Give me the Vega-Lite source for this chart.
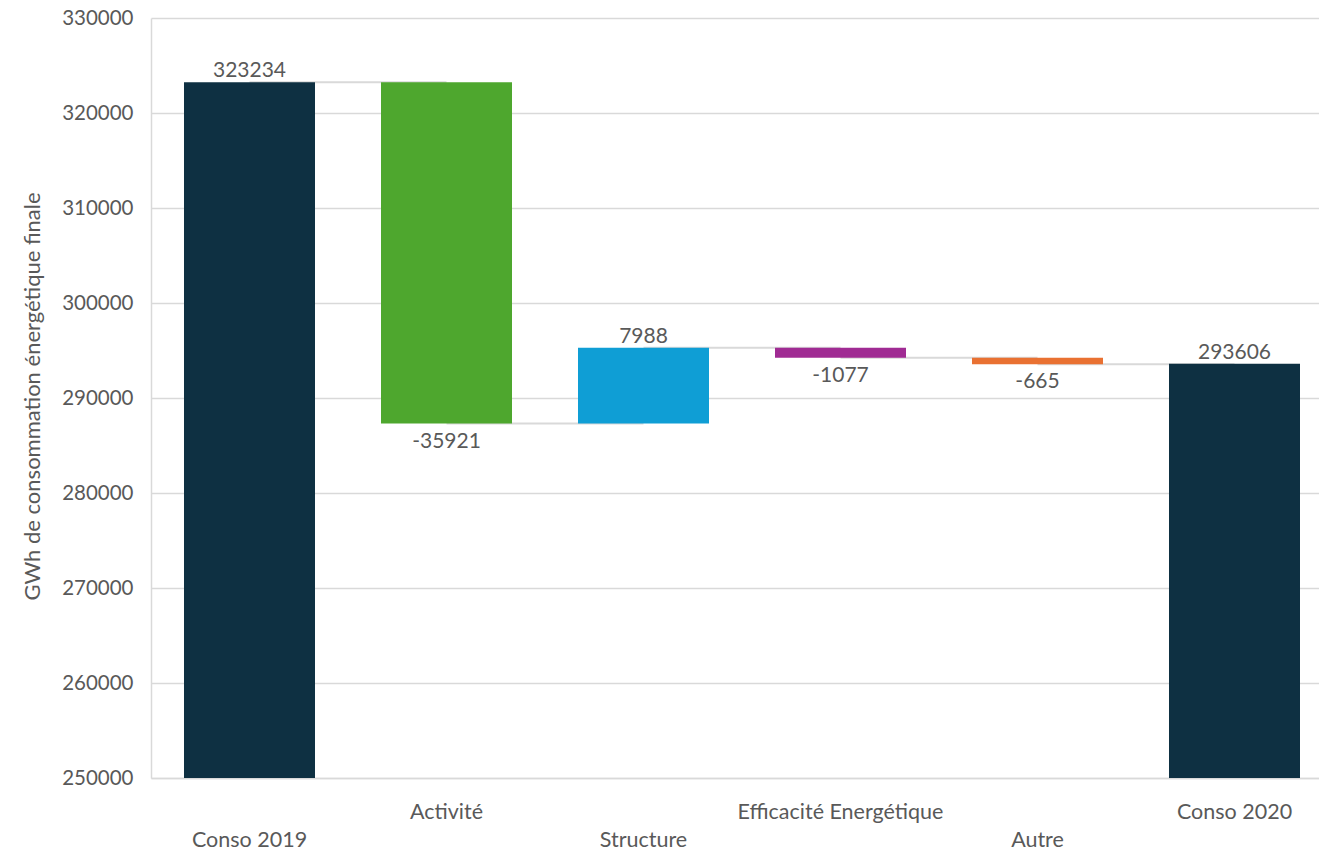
{
  "$schema": "https://vega.github.io/schema/vega-lite/v6.json",
  "autosize": {"type": "none"},
  "padding": {"left": 151, "top": 18, "right": 0, "bottom": 72},
  "width": 1182,
  "height": 760,
  "background": "white",
  "config": {
    "font": "Lato",
    "view": {"stroke": null},
    "axis": {"labelFont": "Lato", "titleFont": "Lato", "labelColor": "#595959", "titleColor": "#595959"}
  },
  "data": {
    "values": [
      {"cat": "Conso 2019", "next": "Activité", "start": 250000, "end": 323234, "label": "323234", "dir": "up", "color": "total"},
      {"cat": "Activité", "next": "Structure", "start": 323234, "end": 287313, "label": "-35921", "dir": "down", "color": "activite"},
      {"cat": "Structure", "next": "Efficacité Energétique", "start": 287313, "end": 295301, "label": "7988", "dir": "up", "color": "structure"},
      {"cat": "Efficacité Energétique", "next": "Autre", "start": 295301, "end": 294224, "label": "-1077", "dir": "down", "color": "efficacite"},
      {"cat": "Autre", "next": "Conso 2020", "start": 294224, "end": 293559, "label": "-665", "dir": "down", "color": "autre"},
      {"cat": "Conso 2020", "next": null, "start": 250000, "end": 293606, "label": "293606", "dir": "up", "color": "total"}
    ]
  },
  "encoding": {
    "x": {
      "field": "cat",
      "type": "nominal",
      "sort": null,
      "scale": {"paddingInner": 0.335, "paddingOuter": 0.1675},
      "axis": {
        "title": null,
        "labelAngle": 0,
        "labelFontSize": 21.5,
        "labelPadding": 23,
        "labelLineHeight": 28,
        "labelBaseline": "top",
        "labelLimit": 0,
        "labelOverlap": false,
        "ticks": false,
        "domainColor": "#d9d9d9",
        "domainWidth": 1.5,
        "labelExpr": "(datum.value == 'Activité' || datum.value == 'Efficacité Energétique' || datum.value == 'Conso 2020') ? datum.label : ['', datum.label]"
      }
    }
  },
  "layer": [
    {
      "transform": [{"filter": "datum.next != null"}],
      "mark": {"type": "rule", "color": "#d9d9d9", "strokeWidth": 2},
      "encoding": {
        "x2": {"field": "next"},
        "y": {"field": "end", "type": "quantitative"}
      }
    },
    {
      "mark": {"type": "bar", "clip": true},
      "encoding": {
        "y": {
          "field": "start",
          "type": "quantitative",
          "scale": {"domain": [250000, 330000], "nice": false, "zero": false},
          "axis": {
            "title": "GWh de consommation énergétique finale",
            "titleFontSize": 22,
            "titleFontWeight": "normal",
            "titleX": -119,
            "titleY": 378,
            "titleAngle": -90,
            "titleAlign": "center",
            "titleBaseline": "middle",
            "values": [250000, 260000, 270000, 280000, 290000, 300000, 310000, 320000, 330000],
            "format": "d",
            "labelFontSize": 20.5,
            "labelPadding": 18,
            "ticks": false,
            "grid": true,
            "gridColor": "#d9d9d9",
            "gridWidth": 1.5,
            "domain": true,
            "domainColor": "#d9d9d9",
            "domainWidth": 1.5
          }
        },
        "y2": {"field": "end"},
        "color": {
          "field": "color",
          "type": "nominal",
          "legend": null,
          "scale": {
            "domain": ["total", "activite", "structure", "efficacite", "autre"],
            "range": ["#0E3042", "#4EA72E", "#0F9ED5", "#A02B93", "#E97132"]
          }
        }
      }
    },
    {
      "transform": [{"filter": "datum.dir == 'up'"}],
      "mark": {"type": "text", "fontSize": 21, "color": "#595959", "baseline": "alphabetic", "dy": -5},
      "encoding": {
        "y": {"field": "end", "type": "quantitative"},
        "text": {"field": "label"}
      }
    },
    {
      "transform": [{"filter": "datum.dir == 'down'"}],
      "mark": {"type": "text", "fontSize": 21, "color": "#595959", "baseline": "alphabetic", "dy": 24},
      "encoding": {
        "y": {"field": "end", "type": "quantitative"},
        "text": {"field": "label"}
      }
    }
  ]
}
